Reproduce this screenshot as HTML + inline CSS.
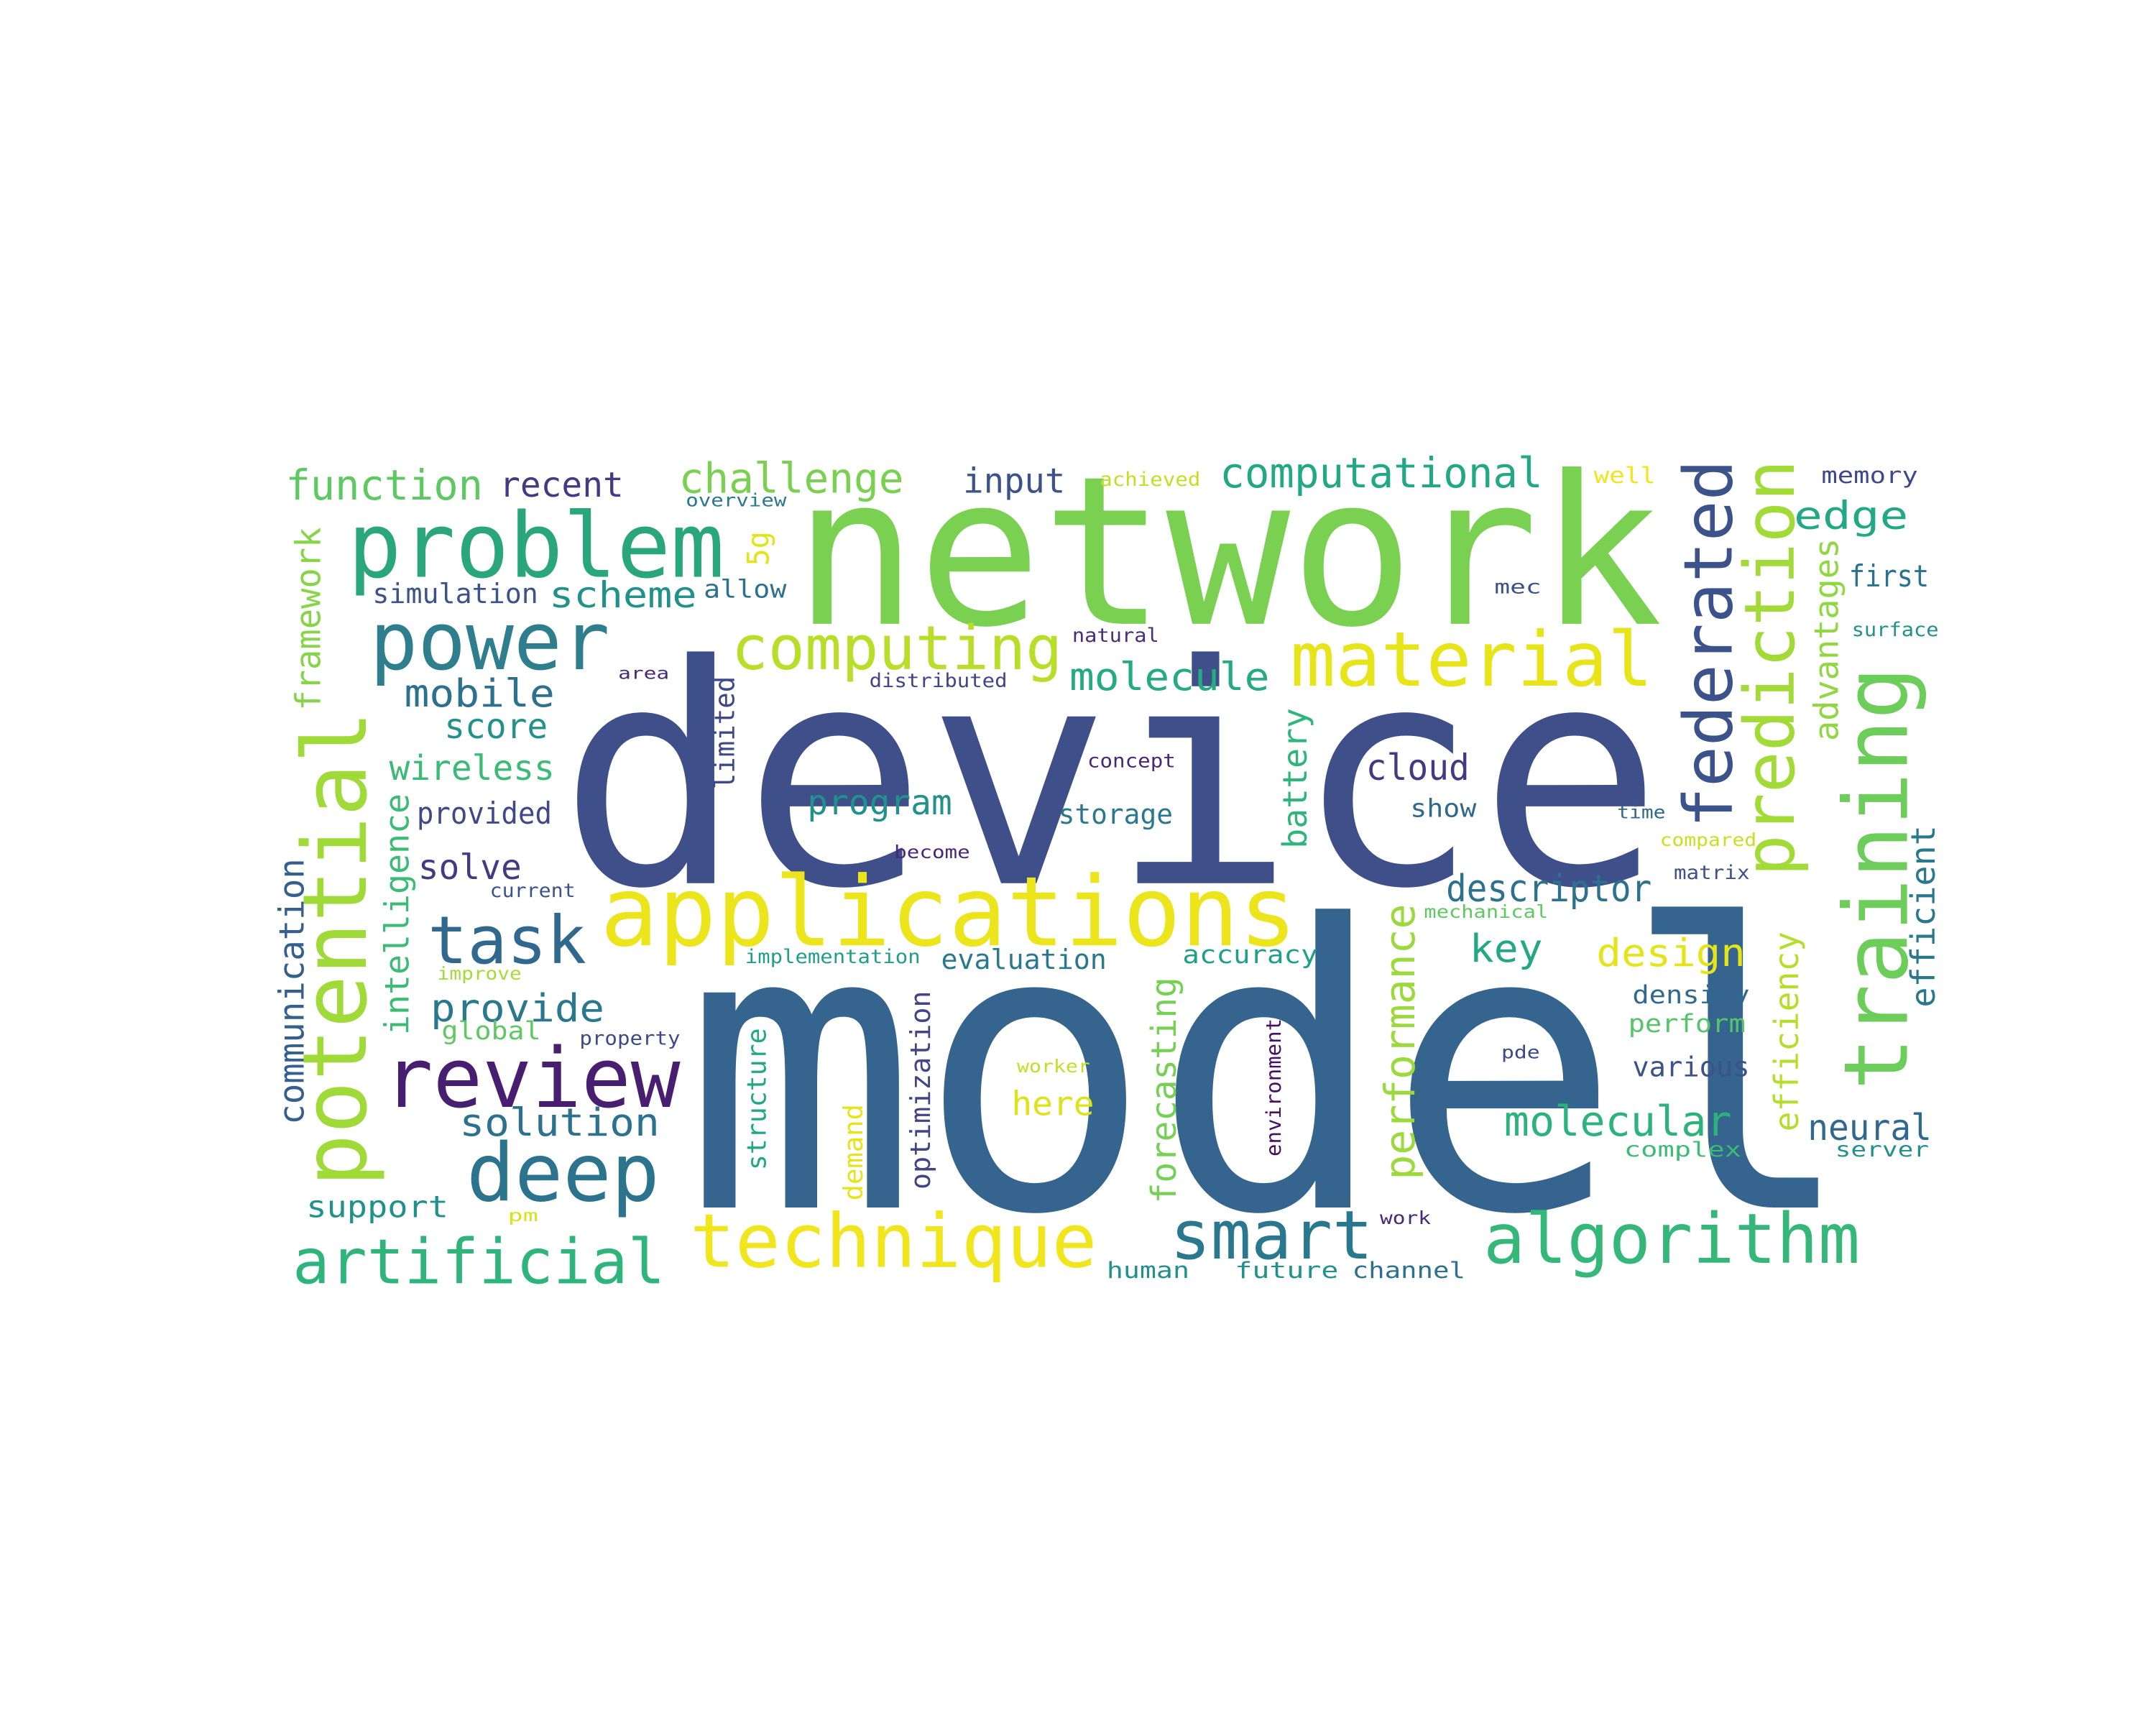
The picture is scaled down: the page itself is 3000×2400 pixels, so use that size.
<!DOCTYPE html>
<html><head><meta charset="utf-8"><style>
html,body{margin:0;padding:0;background:#fff;}
svg{display:block;}
text{font-family:"DejaVu Sans Mono","Liberation Mono",monospace;}
</style></head>
<body>
<svg id="cloud" width="3000" height="2400" viewBox="0 0 1562.5 1250" xmlns="http://www.w3.org/2000/svg">
<rect width="1562.5" height="1250" fill="#fff"/>
</svg>
<script>
// [word, x, baseline y, font size, length, vertical, color]
const words = [
["device",405,640,221,800,0,"#3e4f8a"],
["model",495,875,285,850,0,"#35648e"],
["network",575,452,150,630,0,"#7ad151"],
["applications",435,685,70,505,0,"#ece51b"],
["problem",252,418,65,273,0,"#2aa67c"],
["power",268,485,58,174,0,"#2e7e8e"],
["material",935,497,55,263,0,"#e7e419"],
["computing",530,485,44,240,0,"#b8de29"],
["task",310,698,48,115,0,"#31688e"],
["review",278,802,60,215,0,"#481f70"],
["deep",338,870,58,140,0,"#2c738e"],
["technique",500,918,54,295,0,"#f1e51d"],
["smart",848,912,49,147,0,"#2a788e"],
["algorithm",1075,915,50,273,0,"#35b779"],
["artificial",212,930,45,270,0,"#2fb47c"],
["function",207,362,30,143,0,"#5ec962"],
["recent",362,360,25,90,0,"#443983"],
["challenge",492,357,30,163,0,"#7ad151"],
["input",698,357,25,74,0,"#3b528b"],
["achieved",797,352,14,73,0,"#c2df23"],
["computational",884,353,30,234,0,"#22a884"],
["well",1155,350,16,45,0,"#f1e51d"],
["memory",1320,350,16,70,0,"#3e4989"],
["overview",497,367,13,73,0,"#2a788e"],
["edge",1300,383,28,83,0,"#22a884"],
["first",1340,425,22,58,0,"#2c728e"],
["mec",1083,430,14,34,0,"#3b528b"],
["simulation",270,437,20,120,0,"#3b528b"],
["scheme",398,440,26,107,0,"#21918c"],
["allow",510,433,18,60,0,"#2c728e"],
["natural",777,465,14,63,0,"#472d7b"],
["surface",1342,461,14,63,0,"#21918c"],
["area",448,492,12,37,0,"#482878"],
["distributed",630,498,14,100,0,"#414487"],
["molecule",775,500,28,145,0,"#25ab82"],
["mobile",293,512,28,109,0,"#2c728e"],
["score",322,535,25,75,0,"#21918c"],
["wireless",282,565,25,120,0,"#3bbb75"],
["concept",788,556,14,64,0,"#482878"],
["cloud",990,565,26,75,0,"#443983"],
["provided",302,597,22,98,0,"#3e4989"],
["program",585,590,25,105,0,"#21918c"],
["storage",767,597,20,83,0,"#2a788e"],
["show",1022,592,18,48,0,"#31688e"],
["time",1172,593,13,35,0,"#31688e"],
["compared",1203,613,13,70,0,"#c8e020"],
["become",648,622,13,55,0,"#482878"],
["solve",303,637,25,75,0,"#443983"],
["current",355,650,14,62,0,"#3b528b"],
["matrix",1213,637,14,55,0,"#3b528b"],
["descriptor",1048,653,27,149,0,"#2c728e"],
["mechanical",1032,665,13,90,0,"#5ec962"],
["key",1065,697,28,53,0,"#22a884"],
["design",1157,700,28,108,0,"#e5e419"],
["implementation",540,698,14,127,0,"#1f9f88"],
["evaluation",682,702,20,120,0,"#2a788e"],
["accuracy",857,698,18,98,0,"#1f9f88"],
["improve",317,710,13,61,0,"#a5db36"],
["provide",312,740,28,126,0,"#2a788e"],
["density",1183,727,18,85,0,"#31688e"],
["global",320,753,18,72,0,"#5ec962"],
["property",420,757,14,73,0,"#3e4989"],
["perform",1180,748,18,85,0,"#54c568"],
["pde",1088,767,13,28,0,"#3e4989"],
["worker",737,777,13,53,0,"#c2df23"],
["various",1183,780,20,85,0,"#3b528b"],
["here",733,808,24,60,0,"#dde318"],
["solution",333,823,28,145,0,"#2c728e"],
["molecular",1090,823,30,165,0,"#2db27d"],
["neural",1310,826,26,90,0,"#31688e"],
["complex",1177,838,15,85,0,"#3bbb75"],
["server",1330,838,15,68,0,"#21918c"],
["support",222,882,22,103,0,"#21918c"],
["pm",368,885,12,22,0,"#d8e219"],
["work",1000,887,13,37,0,"#482878"],
["human",802,926,16,60,0,"#21918c"],
["future",895,926,16,75,0,"#21918c"],
["channel",980,926,16,82,0,"#2c728e"],
["potential",265,860,64,345,1,"#a0da39"],
["federated",1255,600,49,267,1,"#3b528b"],
["prediction",1300,635,50,302,1,"#a2da37"],
["training",1382,790,64,307,1,"#6ccd5a"],
["framework",232,515,25,133,1,"#86d549"],
["5g",557,410,22,25,1,"#e2e418"],
["intelligence",296,750,24,175,1,"#3bbb75"],
["communication",220,815,25,193,1,"#35608d"],
["limited",532,572,20,82,1,"#3e4989"],
["battery",947,615,24,102,1,"#2fb47c"],
["advantages",1332,537,24,147,1,"#90d743"],
["efficient",1402,730,24,132,1,"#2a788e"],
["performance",1025,855,30,200,1,"#9bd93c"],
["forecasting",852,872,25,164,1,"#75d054"],
["optimization",674,862,20,144,1,"#414487"],
["structure",555,848,19,103,1,"#22a884"],
["demand",625,870,19,70,1,"#e5e419"],
["environment",928,838,15,100,1,"#471063"],
["efficiency",1303,820,24,145,1,"#b5de2b"]
];
const svg = document.getElementById('cloud');
const NS = 'http://www.w3.org/2000/svg';
for (const w of words) {
  const t = document.createElementNS(NS, 'text');
  
  
  t.setAttribute('font-size', w[3]);
  t.setAttribute('fill', w[6]);
  t.setAttribute('textLength', w[4]);
  t.setAttribute('lengthAdjust', 'spacingAndGlyphs');
  if (w[5]) {
    t.setAttribute('transform', 'translate(' + w[1] + ',' + w[2] + ') rotate(-90)');
    t.setAttribute('x', 0); t.setAttribute('y', 0);
  } else {
    t.setAttribute('x', w[1]); t.setAttribute('y', w[2]);
  }
  t.textContent = w[0];
  svg.appendChild(t);
}
</script>
</body></html>
